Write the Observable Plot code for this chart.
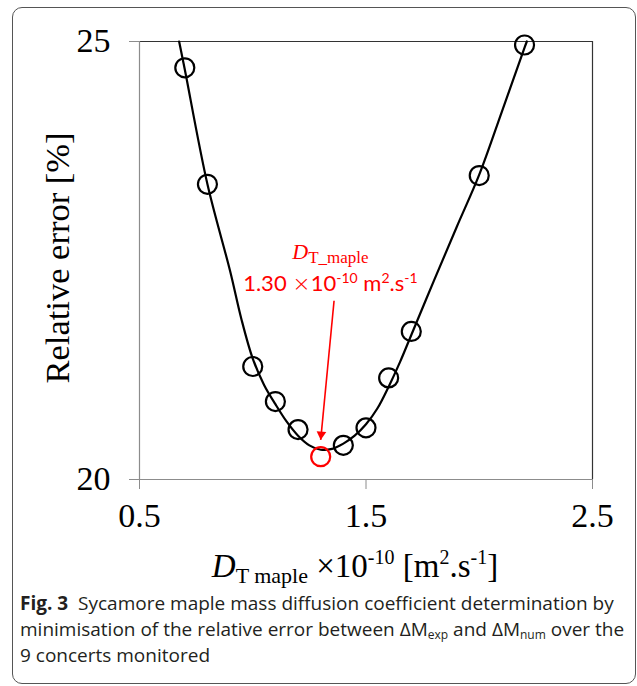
<!DOCTYPE html>
<html><head><meta charset="utf-8">
<script src="https://cdn.jsdelivr.net/npm/d3@7"></script>
<script src="https://cdn.jsdelivr.net/npm/@observablehq/plot@0.6"></script>
<style>
body{margin:0;background:#fff}
#wrap{position:relative;width:637px;height:686px;overflow:hidden;background:#fff}
#frame{position:absolute;left:12px;top:7px;width:624px;height:677px;border:1.3px solid #555;border-radius:10px;box-sizing:border-box}
#chart{position:absolute;left:0;top:0}
#caption{position:absolute;left:20px;top:590px;font-family:"Open Sans";font-size:19px;line-height:26px;color:#231f20;white-space:nowrap}
#caption sub{font-size:12px;vertical-align:-3px;line-height:0}
</style></head><body>
<div id="wrap"><div id="frame"></div><div id="chart"></div>
<div id="caption"><b>Fig. 3</b>&nbsp; Sycamore maple mass diffusion coefficient determination by<br>minimisation of the relative error between ΔM<sub>exp</sub> and ΔM<sub>num</sub> over the<br>9 concerts monitored</div>
</div>
<script>
// measured points: diffusion coefficient (×10^-10 m².s^-1) vs relative error (%)
const pointX = [0.7, 0.8, 1.0, 1.1, 1.2, 1.3, 1.4, 1.5, 1.6, 1.7, 2.0, 2.2];
const pointY = [24.70, 23.37, 21.29, 20.89, 20.57, 20.26, 20.39, 20.59, 21.16, 21.69, 23.47, 24.96];
const optimumX = 1.30;
// fitted curve
const curveX = [0.675, 0.70, 0.80, 0.90, 0.95, 1.00, 1.05, 1.10, 1.15, 1.20, 1.25, 1.30, 1.35, 1.40, 1.45, 1.50, 1.55, 1.60, 1.65, 1.70, 1.80, 1.90, 2.00, 2.10, 2.20, 2.21];
const curveY = [25.00, 24.68, 23.37, 22.38, 21.83, 21.38, 21.08, 20.86, 20.66, 20.50, 20.39, 20.34, 20.35, 20.41, 20.50, 20.63, 20.81, 21.06, 21.34, 21.65, 22.27, 22.88, 23.48, 24.20, 24.93, 25.00];
const xTicks = [0.5, 1.5, 2.5];
const yTicks = [20, 25];
// annotation arrow (start -> tip) and label anchor
const arrowFrom = [1.359, 22.04];
const arrowTo = [1.30, 20.453];
const labelAt = [1.345, 22.51, 22.145];

const points = pointX.map((x, i) => ({x, y: pointY[i]}));
const curve = curveX.map((x, i) => ({x, y: curveY[i]}));

const chart = Plot.plot({
  width: 637, height: 590,
  marginLeft: 139, marginRight: 45, marginTop: 41, marginBottom: 111,
  style: {fontFamily: "Liberation Serif", background: "transparent", overflow: "visible"},
  x: {domain: [0.5, 2.5]},
  y: {domain: [20, 25]},
  marks: [
    Plot.ruleY([25], {stroke: "#333", strokeWidth: 1.2}),
    Plot.ruleX([2.5], {stroke: "#333", strokeWidth: 1.2}),
    Plot.ruleY([20], {stroke: "#8c8c8c", strokeWidth: 1.2}),
    Plot.ruleX([0.5], {stroke: "#8c8c8c", strokeWidth: 1.2}),
    Plot.axisX({ticks: xTicks, tickFormat: d => d.toFixed(1), tickSize: 10, tickPadding: 13, fontSize: 34, fontFamily: "Liberation Serif", label: null}),
    Plot.axisY({ticks: yTicks, tickFormat: d => String(d), tickSize: 10, tickPadding: 19, fontSize: 34, fontFamily: "Liberation Serif", label: null}),
    Plot.line(curve, {x: "x", y: "y", curve: "catmull-rom", stroke: "black", strokeWidth: 2.2}),
    Plot.dot(points, {x: "x", y: "y", r: 9.5, fill: "none", strokeWidth: 2.2,
      stroke: d => d.x === optimumX ? "#ff0000" : "black"}),
    Plot.link([{x1: arrowFrom[0], y1: arrowFrom[1], x2: arrowTo[0], y2: arrowTo[1]}],
      {x1: "x1", y1: "y1", x2: "x2", y2: "y2", stroke: "#ff0000", strokeWidth: 1.6}),
    Plot.dot([{x: arrowTo[0], y: arrowTo[1]}], {x: "x", y: "y", symbol: "triangle", r: 3.6,
      fill: "#ff0000", stroke: "none", rotate: 185.45, dx: 0.5, dy: -5.4})
  ]
});
document.getElementById("chart").appendChild(chart);

const svg = d3.select(chart);
svg.selectAll('g[aria-label="x-axis tick"] path, g[aria-label="y-axis tick"] path').attr("stroke", "#8c8c8c");
const sx = chart.scale("x"), sy = chart.scale("y");

// y title
svg.append("text")
  .attr("transform", "translate(69,258) rotate(-90)")
  .attr("text-anchor", "middle")
  .attr("font-family", "Liberation Serif").attr("font-size", 34.5).attr("fill", "black")
  .text("Relative error [%]");

// x title
const xt = svg.append("text")
  .attr("x", 355).attr("y", 577).attr("text-anchor", "middle")
  .attr("font-family", "Liberation Serif").attr("font-size", 33).attr("fill", "black");
const parts = [
  ["D", {"font-style": "italic"}, 0],
  ["T maple", {"font-size": 22}, 6],
  [" ×10", {}, -6],
  ["-10", {"font-size": 20}, -13],
  [" [m", {}, 13],
  ["2", {"font-size": 20}, -13],
  [".s", {}, 13],
  ["-1", {"font-size": 20}, -13],
  ["]", {}, 13]
];
for (const [t, a, dy] of parts) {
  const ts = xt.append("tspan").attr("dy", dy).text(t);
  for (const k in a) ts.attr(k, a[k]);
}

// red annotation
const cx = sx.apply(labelAt[0]);
const l1 = svg.append("text").attr("x", cx).attr("y", sy.apply(labelAt[1]))
  .attr("text-anchor", "middle").attr("fill", "#ff0000").attr("font-family", "Liberation Serif");
l1.append("tspan").attr("font-style", "italic").attr("font-size", 22).text("D");
l1.append("tspan").attr("font-size", 17).attr("dy", 4).text("T_maple");

const l2 = svg.append("text").attr("x", cx).attr("y", sy.apply(labelAt[2]))
  .attr("text-anchor", "middle").attr("fill", "#ff0000").attr("font-family", "Lato").attr("font-size", 22);
const p2 = [
  ["1.30 ", {}, 0],
  ["×", {"font-family": "DejaVu Sans", "font-weight": 200}, 0],
  ["10", {}, 0],
  ["-10", {"font-size": 14}, -8],
  [" m", {}, 8],
  ["2", {"font-size": 14}, -8],
  [".s", {}, 8],
  ["-1", {"font-size": 14}, -8]
];
for (const [t, a, dy] of p2) {
  const ts = l2.append("tspan").attr("dy", dy).text(t);
  for (const k in a) ts.attr(k, a[k]);
}
</script>
</body></html>
